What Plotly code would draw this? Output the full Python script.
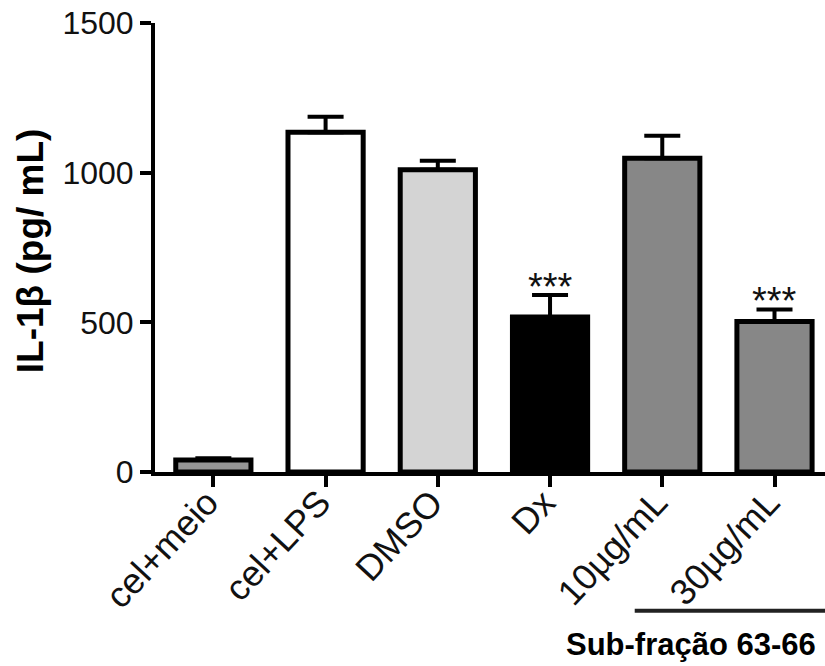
import plotly.graph_objects as go

# IL-1β levels per treatment group (mean and upper SEM)
categories = ["cel+meio", "cel+LPS", "DMSO", "Dx", "10µg/mL", "30µg/mL"]
means = [40, 1135, 1010, 518, 1048, 503]
sem = [6, 52, 30, 73, 75, 40]
significance = ["", "", "", "***", "", "***"]
fill_colors = ["#969696", "#ffffff", "#d4d4d4", "#000000", "#878787", "#878787"]

FONT = "Liberation Sans, Arial, sans-serif"

fig = go.Figure()
fig.add_trace(
    go.Bar(
        x=categories,
        y=means,
        width=0.67,
        marker=dict(color=fill_colors, line=dict(color="black", width=5)),
        error_y=dict(
            type="data",
            symmetric=False,
            array=sem,
            arrayminus=[0] * len(sem),
            color="black",
            thickness=4,
            width=18,
        ),
        showlegend=False,
    )
)

# significance marks above the error bars
for cat, m, e, s in zip(categories, means, sem, significance):
    if s:
        fig.add_annotation(
            x=cat, y=m + e, text=s, showarrow=False,
            xanchor="center", yanchor="bottom", yshift=-15,
            font=dict(family=FONT, size=38, color="#111111"),
        )

# y-axis title
fig.add_annotation(
    xref="paper", yref="paper", x=-0.1866, y=0.494,
    text="<b>IL-1β (pg/ mL)</b>", textangle=-90, showarrow=False,
    xanchor="center", yanchor="middle",
    font=dict(family=FONT, size=37, color="black"),
)

# bracket marking the sub-fraction groups
fig.add_shape(
    type="line", xref="paper", yref="paper",
    x0=0.716, x1=1.0, y0=-0.309, y1=-0.309,
    line=dict(color="#222222", width=4),
)
fig.add_annotation(
    xref="paper", yref="paper", x=0.99, y=-0.385,
    text="<b>Sub-fração 63-66</b>", showarrow=False,
    xanchor="right", yanchor="middle",
    font=dict(family=FONT, size=31, color="black"),
)

fig.update_layout(
    width=825, height=666,
    margin=dict(l=155, r=0, t=23, b=194),
    paper_bgcolor="white", plot_bgcolor="white",
    font=dict(family=FONT, color="black"),
)
fig.update_xaxes(
    type="category", range=[-0.52, 5.45],
    showline=True, linecolor="black", linewidth=4,
    ticks="outside", ticklen=11, tickwidth=4, tickcolor="black",
    tickangle=-47, ticklabelstandoff=-20, ticklabelshift=-6,
    tickfont=dict(family=FONT, size=36, color="#111111"),
    showgrid=False, zeroline=False,
)
fig.update_yaxes(
    range=[0, 1500], tickvals=[0, 500, 1000, 1500],
    showline=True, linecolor="black", linewidth=4,
    ticks="outside", ticklen=11, tickwidth=4, tickcolor="black",
    tickfont=dict(family=FONT, size=32, color="#111111"),
    showgrid=False, zeroline=False,
)

fig.write_html("out.html")
